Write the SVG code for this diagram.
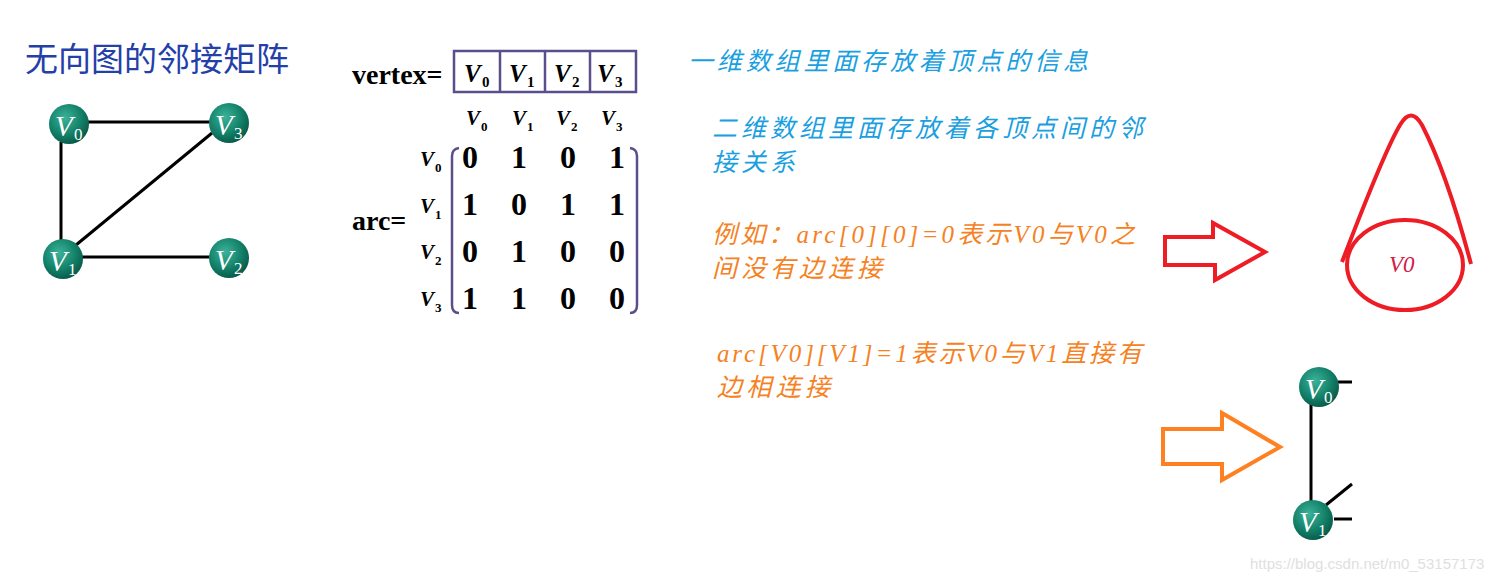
<svg xmlns="http://www.w3.org/2000/svg" width="1505" height="581" viewBox="0 0 1505 581">
<style>
.title{font-family:"Noto Sans CJK SC","Noto Sans",sans-serif;font-size:33px;fill:#2440a8}
.nv{font-family:"Liberation Serif",serif;font-style:italic;font-size:29px;fill:#fff}
.ns{font-family:"Liberation Serif",serif;font-size:17px;fill:#fff}
.edge{stroke:#000;stroke-width:3;fill:none}
.bold{font-family:"Liberation Serif",serif;font-weight:bold;font-size:28px;fill:#000}
.mv{font-family:"Liberation Serif",serif;font-weight:bold;font-style:italic;font-size:25px;fill:#000}
.ms{font-family:"Liberation Serif",serif;font-weight:bold;font-size:15px;fill:#000}
.hv{font-family:"Liberation Serif",serif;font-weight:bold;font-style:italic;font-size:21px;fill:#000}
.hs{font-family:"Liberation Serif",serif;font-weight:bold;font-size:13px;fill:#000}
.dig{font-family:"Liberation Serif",serif;font-weight:bold;font-size:32px;fill:#000;text-anchor:middle}
.blue{font-family:"Noto Sans CJK SC",sans-serif;font-style:italic;font-size:25px;fill:#1aa0e0}
.orange{font-family:"Liberation Serif","Noto Sans CJK SC",serif;font-style:italic;font-size:25px;fill:#f5821f}
.box{fill:none;stroke:#5a4f8c;stroke-width:2.5}
</style>
<defs>
<radialGradient id="g" cx="0.4" cy="0.35" r="0.7">
<stop offset="0" stop-color="#3bb39a"/>
<stop offset="0.6" stop-color="#138068"/>
<stop offset="1" stop-color="#075646"/>
</radialGradient>
</defs>
<text class="title" x="25" y="71">无向图的邻接矩阵</text>
<g id="connectors">
<line class="edge" x1="86" y1="122" x2="211" y2="122"/>
<line class="edge" x1="61" y1="142" x2="61" y2="240"/>
<line class="edge" x1="76" y1="245" x2="212" y2="133"/>
<line class="edge" x1="82" y1="257" x2="211" y2="257"/>
<line class="edge" x1="1311" y1="404" x2="1311" y2="503"/>
<line class="edge" x1="1338" y1="382" x2="1352" y2="382"/>
<line class="edge" x1="1334" y1="519" x2="1352" y2="519"/>
<line class="edge" x1="1326" y1="505" x2="1352" y2="484"/>
</g>
<g id="node-v0"><circle cx="69" cy="124" r="20" fill="url(#g)"/><text class="nv" x="55" y="136">V</text><text class="ns" x="74" y="140">0</text></g>
<g id="node-v3"><circle cx="229" cy="123" r="20" fill="url(#g)"/><text class="nv" x="215" y="135">V</text><text class="ns" x="234" y="139">3</text></g>
<g id="node-v1"><circle cx="63" cy="259" r="20" fill="url(#g)"/><text class="nv" x="49" y="271">V</text><text class="ns" x="68" y="275">1</text></g>
<g id="node-v2"><circle cx="229" cy="258" r="20" fill="url(#g)"/><text class="nv" x="215" y="270">V</text><text class="ns" x="234" y="274">2</text></g>
<g id="vertex">
<text class="bold" x="352" y="84">vertex=</text>
<rect class="box" x="454" y="51" width="182" height="41"/>
<line class="box" x1="500" y1="51" x2="500" y2="92"/>
<line class="box" x1="545" y1="51" x2="545" y2="92"/>
<line class="box" x1="590" y1="51" x2="590" y2="92"/>
<text class="mv" x="464" y="82">V</text><text class="ms" x="482" y="87">0</text>
<text class="mv" x="509" y="82">V</text><text class="ms" x="527" y="87">1</text>
<text class="mv" x="554" y="82">V</text><text class="ms" x="572" y="87">2</text>
<text class="mv" x="597" y="82">V</text><text class="ms" x="615" y="87">3</text>
</g>
<g id="arc">
<text class="bold" x="352" y="230">arc=</text>
<text class="hv" x="466" y="125">V</text><text class="hs" x="481" y="131">0</text>
<text class="hv" x="512" y="125">V</text><text class="hs" x="527" y="131">1</text>
<text class="hv" x="556" y="125">V</text><text class="hs" x="571" y="131">2</text>
<text class="hv" x="601" y="125">V</text><text class="hs" x="616" y="131">3</text>
<text class="hv" x="420" y="166">V</text><text class="hs" x="435" y="172">0</text>
<text class="hv" x="420" y="213">V</text><text class="hs" x="435" y="219">1</text>
<text class="hv" x="420" y="259">V</text><text class="hs" x="435" y="265">2</text>
<text class="hv" x="420" y="306">V</text><text class="hs" x="435" y="312">3</text>
<path class="box" d="M459,148 Q452,149 452,156 L452,305 Q452,313 459,313"/>
<path class="box" d="M630,148 Q637,149 637,156 L637,305 Q637,313 630,313"/>
<text class="dig" x="470" y="168">0</text><text class="dig" x="519" y="168">1</text><text class="dig" x="568" y="168">0</text><text class="dig" x="617" y="168">1</text>
<text class="dig" x="470" y="215">1</text><text class="dig" x="519" y="215">0</text><text class="dig" x="568" y="215">1</text><text class="dig" x="617" y="215">1</text>
<text class="dig" x="470" y="262">0</text><text class="dig" x="519" y="262">1</text><text class="dig" x="568" y="262">0</text><text class="dig" x="617" y="262">0</text>
<text class="dig" x="470" y="309">1</text><text class="dig" x="519" y="309">1</text><text class="dig" x="568" y="309">0</text><text class="dig" x="617" y="309">0</text>
</g>
<text class="blue" x="688" y="70" textLength="400" lengthAdjust="spacing">一维数组里面存放着顶点的信息</text>
<text class="blue" x="712" y="137" textLength="431" lengthAdjust="spacing">二维数组里面存放着各顶点间的邻</text>
<text class="blue" x="712" y="171" textLength="83" lengthAdjust="spacing">接关系</text>
<text class="orange" x="712" y="243" textLength="423" lengthAdjust="spacing">例如：arc[0][0]=0表示V0与V0之</text>
<text class="orange" x="712" y="277" textLength="170" lengthAdjust="spacing">间没有边连接</text>
<text class="orange" x="717" y="362" textLength="425" lengthAdjust="spacing">arc[V0][V1]=1表示V0与V1直接有</text>
<text class="orange" x="717" y="396" textLength="113" lengthAdjust="spacing">边相连接</text>
<polygon points="1165,237 1213,237 1213,223 1265,252 1215,280 1215,265 1165,265" fill="none" stroke="#ee1c24" stroke-width="4"/>
<path d="M1342,262 C1360,215 1385,150 1400,125 Q1411,106 1422,125 C1440,160 1458,215 1471,264" fill="none" stroke="#ee1c24" stroke-width="4"/>
<ellipse cx="1405" cy="265" rx="58" ry="45" fill="none" stroke="#ee1c24" stroke-width="4"/>
<text x="1389" y="272" style="font-family:'Liberation Serif',serif;font-style:italic;font-size:23px;fill:#d0204a">V0</text>
<polygon points="1163,429 1222,429 1222,413 1280,447 1222,480 1222,464 1163,464" fill="none" stroke="#ff8020" stroke-width="4"/>
<g id="node-v0b"><circle cx="1319" cy="387" r="20" fill="url(#g)"/><text class="nv" x="1305" y="399">V</text><text class="ns" x="1324" y="403">0</text></g>
<g id="node-v1b"><circle cx="1313" cy="520" r="20" fill="url(#g)"/><text class="nv" x="1299" y="532">V</text><text class="ns" x="1318" y="536">1</text></g>
<text x="1250" y="569" style="font-family:'Liberation Sans',sans-serif;font-size:15px;fill:#e0e0e0">https://blog.csdn.net/m0_53157173</text>
</svg>
